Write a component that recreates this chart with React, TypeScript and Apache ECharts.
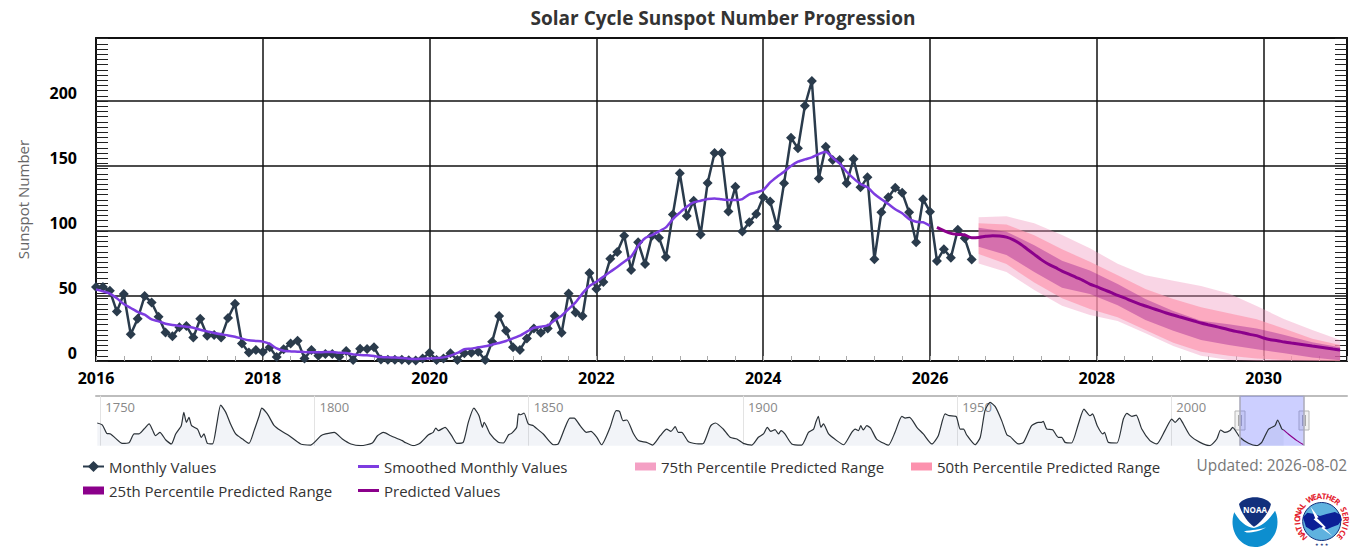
import { useEffect, useRef } from 'react';
import * as echarts from 'echarts';

const START_YEAR = 2016;

// monthly sunspot number, one value per month from 2016-01
const monthlyValues = [
  57, 57, 54, 38, 51.5, 20.5, 32.5, 50, 45, 34, 22, 19,
  26, 27, 18, 32.5, 19.5, 20, 18, 33, 44, 13.5, 6.5, 8.5,
  7, 10.5, 3, 9, 13.5, 15.6, 2, 8.5, 4, 5.4, 5.4, 3.3,
  7.7, 0.8, 9.5, 9.2, 10.5, 1.2, 1, 1, 1, 0.5, 0.4, 2,
  6.4, 0.8, 2, 5.9, 0.8, 6, 6.4, 7.2, 0.8, 14.9, 34.6, 23.3,
  10.5, 8.5, 17.4, 25, 21.8, 25, 34.6, 21.8, 52, 37.4, 34.6, 67.7,
  55.4, 60.8, 78.7, 83.8, 96.4, 70, 91.3, 74.6, 96.4, 94.9, 80, 112.8,
  144.4, 111.5, 123.3, 97.4, 137, 160, 160, 115, 134, 99.7, 106.7, 113,
  126, 122.8, 103.3, 136.7, 171.8, 163.6, 196.4, 215.4, 140.5, 164.9, 154.6, 154.6,
  136.7, 155.4, 133.6, 141.3, 78.2, 114.4, 125.9, 133.3, 129.5, 114.4, 91.3, 124.4,
  114.9, 77, 86, 79.5, 101, 94.4, 78,
];

const smoothedValues = [
  55.1, 53.6, 51.8, 48.2, 43.8, 40.8, 37.7, 35.6, 32, 30.5, 28.7, 27.7,
  27, 26.4, 25.6, 24.1, 22.8, 21.5, 20.5, 19.7, 18.7, 17.2, 15.9, 15.4,
  14.9, 13.1, 9.7, 7.9, 7.4, 7.2, 6.9, 6.7, 6.7, 6.9, 6.9, 6.4,
  6.2, 5.1, 4.6, 4.4, 3.8, 3.1, 2.8, 2.6, 2.3, 1.8, 1.5, 1.8,
  2, 2.3, 2.8, 4.1, 6.2, 9, 9.5, 10.5, 11.3, 12.6, 13.8, 15.4,
  17.4, 19.5, 22.6, 25.6, 26.4, 27.4, 31.3, 34.9, 40, 45.1, 52, 57.7,
  61, 64.9, 68.7, 72.3, 76.4, 80.3, 88.5, 94.4, 96.9, 99.7, 102.8, 109.2,
  114.1, 118.7, 122, 123.3, 124.6, 125.1, 124.4, 123.8, 123.8, 124.6, 128.2, 129.7,
  131.5, 137.4, 141.8, 145.6, 150, 153.3, 155.1, 156.7, 159.2, 161, 156.4, 152,
  145.6, 140.5, 136.2, 133.6, 128.5, 124.4, 120.8, 116.7, 113.6, 109.2, 107.2, 106.7,
  104,
];

// predicted line starts 2026-02
const PREDICTED_START = 121;
const predictedValues = [
  102.8, 100.3, 98.2, 97.4, 96.9, 94.9, 95.1, 95.9, 96.4, 96.2, 95.3, 93.2,
  90, 86, 82, 78, 74.6, 72, 69.2, 66.9, 64.4, 62, 59.2, 57.2,
  54.9, 52.8, 50.5, 48.5, 46.2, 44.1, 42.3, 40.5, 38.7, 36.9, 35.4, 33.8,
  32.3, 30.8, 29.2, 27.9, 26.7, 25.4, 24.1, 22.8, 21.8, 20.5, 19.5, 17.7,
  16.4, 15.6, 14.6, 13.8, 13.1, 12.3, 11.5, 10.8, 10, 9.2, 8.5,
];

// percentile ranges, read every four months
const bandYears = [
  2026.583, 2026.917, 2027.25, 2027.583, 2027.917, 2028.25, 2028.583,
  2028.917, 2029.25, 2029.583, 2029.917, 2030.25, 2030.583, 2030.917,
];
const p75Upper = [110.5, 111.3, 105.9, 96.9, 86.7, 74.9, 65.9, 61.8, 57.7, 52, 42.3, 32.1, 23.8, 16.2];
const p50Upper = [105.9, 105.1, 96.7, 85.9, 76.4, 65.9, 55.4, 47.7, 41.3, 36.7, 32.1, 24.9, 17.2, 12.3];
const p25Upper = [102.6, 99.5, 89, 77.2, 69.7, 59.2, 47.7, 38.5, 31, 28.2, 25.1, 20, 14.4, 10.5];
const p25Lower = [87.9, 81.5, 68.5, 56.4, 51.5, 42.8, 31.5, 23.3, 16.2, 12.3, 9, 5.9, 2.6, 0.5];
const p50Lower = [82.3, 74.6, 60.3, 48.2, 40, 33.6, 23.8, 14.1, 7.2, 4.1, 2, 0.8, 0.3, 0];
const p75Lower = [75.1, 68.5, 54.6, 42.6, 35.4, 30.8, 21.3, 11.5, 4.1, 0.8, 0, 0, 0, 0];

// navigator history: [year, smoothed value]
const navigatorHistory: number[][] = [
  [1749.3, 143], [1750.5, 130], [1751.5, 78], [1752.4, 74], [1753.6, 46], [1755.1, 15], [1756.7, 19], [1757.9, 74],
  [1759, 74], [1760.2, 105], [1761.4, 137], [1762.2, 99], [1762.9, 63], [1763.9, 84], [1765.3, 36], [1766.6, 11],
  [1767.6, 74], [1768.9, 126], [1769.5, 210], [1770.1, 147], [1770.7, 179], [1771.3, 126], [1772.7, 105], [1773.6, 53],
  [1774.2, 74], [1775, 15], [1776.2, 11], [1777.2, 137], [1778.1, 256], [1779.3, 210], [1780.4, 137], [1781.6, 74],
  [1783.2, 42], [1784.7, 15], [1785.9, 95], [1787.1, 189], [1787.7, 237], [1789, 200], [1790.6, 126], [1792.1, 95],
  [1794.1, 63], [1796.8, 11], [1799.1, 4], [1801.5, 63], [1802.6, 74], [1804.6, 84], [1806.5, 42], [1808.5, 11],
  [1810.8, 0], [1813.5, 17], [1814.7, 63], [1816.1, 84], [1817.8, 63], [1820.5, 32], [1821.1, 21], [1823.1, 0],
  [1824.6, 15], [1826.6, 69], [1827.7, 84], [1828.3, 111], [1828.9, 95], [1830.5, 116], [1832, 63], [1833.2, 15],
  [1834.7, 21], [1835.9, 147], [1837.2, 237], [1838.4, 189], [1839.2, 116], [1839.6, 147], [1841, 74], [1842.9, 21],
  [1844.1, 17], [1845.3, 69], [1846, 78], [1847.2, 116], [1847.6, 200], [1848.1, 195], [1848.9, 206], [1849.9, 137],
  [1851.1, 126], [1851.5, 116], [1853.4, 74], [1855.8, 6], [1856.9, 11], [1858.5, 116], [1859.6, 174], [1860.6, 174],
  [1862, 126], [1863.5, 84], [1864.5, 90], [1865.9, 53], [1867, 6], [1869, 116], [1870.4, 221], [1871.2, 216],
  [1872, 158], [1872.9, 162], [1874.4, 78], [1875.6, 32], [1877.5, 21], [1878.9, 4], [1880.7, 63], [1882.2, 105],
  [1883.2, 90], [1884.2, 120], [1884.9, 84], [1885.7, 84], [1887.3, 25], [1889.6, 11], [1890.8, 15], [1892.3, 116],
  [1892.7, 132], [1893.6, 143], [1895.4, 105], [1897, 53], [1898.6, 42], [1900.1, 15], [1902.1, 4], [1903.6, 53],
  [1904.8, 74], [1905.7, 116], [1906.5, 90], [1907.5, 101], [1908.3, 74], [1908.9, 95], [1909.8, 74], [1911.4, 11],
  [1913.7, 4], [1915.3, 84], [1916.5, 105], [1917, 147], [1917.6, 185], [1918.2, 116], [1918.8, 137], [1920, 74],
  [1921.9, 32], [1923.5, 6], [1925.4, 84], [1926.2, 105], [1927, 95], [1927.5, 126], [1928.1, 99], [1928.9, 126],
  [1929.8, 111], [1931.2, 42], [1933.2, 11], [1934, 4], [1935.5, 84], [1937.1, 185], [1937.9, 174], [1938.9, 179],
  [1940.6, 116], [1942.1, 74], [1944.1, 11], [1945.6, 63], [1947.2, 200], [1948.2, 189], [1949.8, 183], [1950.7, 105],
  [1951.5, 105], [1952.2, 69], [1954.2, 6], [1955.4, 53], [1956.5, 221], [1957.7, 273], [1958.9, 246], [1960.4, 158],
  [1961.6, 69], [1962.4, 57], [1964.3, 11], [1965.5, 21], [1967.4, 126], [1969, 147], [1969.7, 147], [1970.1, 153],
  [1970.9, 105], [1972.3, 101], [1973.6, 53], [1974.4, 53], [1975.2, 21], [1976.7, 17], [1978.3, 137], [1979.6, 231],
  [1981, 189], [1981.6, 200], [1982.7, 126], [1984, 74], [1984.4, 84], [1985.3, 21], [1987.3, 17], [1988.8, 168],
  [1989.6, 204], [1990.8, 185], [1991.8, 193], [1993.1, 105], [1995, 32], [1996.6, 11], [1998.5, 95], [2000.1, 168],
  [2000.9, 147], [2001.9, 174], [2002.8, 137], [2004.4, 63], [2006.7, 21], [2009, 0], [2010.6, 42], [2011.5, 99],
  [2012.5, 84], [2013.7, 95], [2014.3, 116], [2016, 53], [2018, 15], [2019.9, 0], [2021.1, 21], [2022.7, 105],
  [2024.2, 126], [2024.8, 162], [2025.8, 105], [2026.2, 100],
];
const navigatorForecast: number[][] = [
  [2026.2, 100], [2027.3, 74], [2029.3, 32], [2030.9, 6],
];
const navigatorLabels = [1750, 1800, 1850, 1900, 1950, 2000];

const FONT = '"Open Sans", "Noto Sans", sans-serif';
const NWS_LETTERS = 'NATIONAL WEATHER SERVICE';

const P75 = '75th Percentile Predicted Range';
const P50 = '50th Percentile Predicted Range';
const P25 = '25th Percentile Predicted Range';

const bandSeries = (name: string, upper: number[], lower: number[], color: string, swatch: string) => ({
  type: 'custom',
  name,
  xAxisIndex: 0,
  yAxisIndex: 0,
  z: 3,
  silent: true,
  itemStyle: { color: swatch },
  data: bandYears.map((y, i) => [y, lower[i], upper[i]]),
  encode: { x: 0, y: [1, 2] },
  renderItem: (params: any, api: any) => {
    if (params.dataIndex !== 0) return null;
    const top = bandYears.map((y, i) => api.coord([y, upper[i]]));
    const bottom = bandYears.map((y, i) => api.coord([y, lower[i]])).reverse();
    return { type: 'polygon', shape: { points: [...top, ...bottom] }, style: { fill: color } };
  },
});

const legendBase = {
  orient: 'vertical',
  selectedMode: false,
  padding: 0,
  itemGap: 9,
  textStyle: { fontFamily: FONT, fontSize: 15, color: '#333' },
};

const logoGraphics = () => {
  const cx = 1321.7;
  const cy = 520.5;
  const letters = NWS_LETTERS.split('').map((ch, i) => {
    const a = ((-132 + (i * 264) / (NWS_LETTERS.length - 1)) * Math.PI) / 180;
    return {
      type: 'text',
      x: cx + Math.sin(a) * 25,
      y: cy - Math.cos(a) * 25,
      rotation: -a,
      style: {
        text: ch,
        fontFamily: FONT,
        fontSize: 8,
        fontWeight: 'bold',
        fill: '#e3202c',
        align: 'center',
        verticalAlign: 'middle',
      },
    };
  });
  return [
    // NOAA
    { type: 'ellipse', shape: { cx: 1255, cy: 522, rx: 22.5, ry: 25 }, style: { fill: '#0d8ecf' } },
    { type: 'noaaGull', x: 1220, y: 490, scaleX: 1 / 3, scaleY: 1 / 3, style: { fill: '#ffffff' } },
    { type: 'noaaDome', x: 1220, y: 490, scaleX: 1 / 3, scaleY: 1 / 3, style: { fill: '#12307c' } },
    {
      type: 'text',
      x: 1255,
      y: 509,
      style: { text: 'NOAA', fontFamily: FONT, fontSize: 8, fontWeight: 'bold', fill: '#fff', align: 'center', verticalAlign: 'middle' },
    },
    // NWS
    { type: 'circle', shape: { cx, cy: cy + 1, r: 19 }, style: { fill: '#5fb2df', stroke: '#12307c', lineWidth: 1 } },
    { type: 'nwsLand', x: 1220, y: 490, scaleX: 1 / 3, scaleY: 1 / 3, style: { fill: '#0b1f96' } },
    { type: 'nwsBolt', x: 1220, y: 490, scaleX: 1 / 3, scaleY: 1 / 3, style: { fill: '#ffffff' } },
    ...letters,
    {
      type: 'text',
      x: cx,
      y: cy + 23.5,
      style: { text: '★ ★ ★', fontFamily: 'DejaVu Sans', fontSize: 4, fill: '#12307c', align: 'center', verticalAlign: 'middle' },
    },
  ];
};

const handle = (x: number) => ({
  type: 'group',
  children: [
    { type: 'rect', shape: { x: x - 5, y: 411, width: 10, height: 19 }, style: { fill: '#f2f2f2', stroke: '#b5b5b5', lineWidth: 1 } },
    { type: 'line', shape: { x1: x - 1.5, y1: 415, x2: x - 1.5, y2: 426 }, style: { stroke: '#a8a8a8', lineWidth: 1 } },
    { type: 'line', shape: { x1: x + 1.5, y1: 415, x2: x + 1.5, y2: 426 }, style: { stroke: '#a8a8a8', lineWidth: 1 } },
  ],
});

const App = () => {
  const chartRef = useRef<HTMLDivElement>(null);

  useEffect(() => {
    if (!chartRef.current) return;

    echarts.graphic.registerShape(
      'noaaDome',
      echarts.graphic.extendPath('M57,42 C75,15 135,15 153,42 C150,62 125,98 102,110 C82,98 62,65 57,42 Z', {})
    );
    echarts.graphic.registerShape(
      'noaaGull',
      echarts.graphic.extendPath('M37,55 C55,95 80,112 102,114 C130,108 152,85 172,52 L172,40 L140,20 L70,20 L37,42 Z M72,124 C95,120 120,120 138,112 C125,122 100,128 80,128 Z', {})
    );
    echarts.graphic.registerShape(
      'nwsLand',
      echarts.graphic.extendPath('M249,82 L262,68 L285,72 L300,78 L320,72 L345,66 L362,74 L366,90 L355,104 L335,112 L322,118 L300,112 L278,122 L258,110 Z', {})
    );
    echarts.graphic.registerShape(
      'nwsBolt',
      echarts.graphic.extendPath('M272,50 L296,82 L291,84 L318,112 L313,114 L338,138 L304,114 L309,110 L281,88 L286,85 Z', {})
    );

    const chart = echarts.init(chartRef.current, null, { renderer: 'svg' });

    const option = {
      animation: false,
      backgroundColor: '#fff',
      title: {
        text: 'Solar Cycle Sunspot Number Progression',
        left: 718,
        top: 3,
        textAlign: 'center',
        textStyle: { fontFamily: FONT, fontSize: 19, fontWeight: 'bold', color: '#333' },
      },
      grid: [
        { left: 96, top: 38, width: 1251, height: 323 },
        { left: 96, top: 395.7, width: 1251, height: 50 },
      ],
      xAxis: [
        {
          type: 'value',
          gridIndex: 0,
          min: 2016,
          max: 2031,
          interval: 2,
          axisLine: { onZero: false, lineStyle: { color: '#111', width: 2 } },
          axisTick: { show: false },
          splitLine: { lineStyle: { color: '#111', width: 1.5 } },
          axisLabel: {
            showMaxLabel: false,
            margin: 9,
            formatter: (v: number) => String(v),
            fontFamily: FONT,
            fontSize: 16,
            fontWeight: 'bold',
            color: '#000',
          },
        },
        {
          type: 'value',
          gridIndex: 0,
          position: 'top',
          min: 2016,
          max: 2031,
          axisLine: { onZero: false, lineStyle: { color: '#111', width: 2 } },
          axisTick: { show: false },
          axisLabel: { show: false },
          splitLine: { show: false },
        },
        {
          // four-month ticks along the bottom
          type: 'value',
          gridIndex: 0,
          position: 'bottom',
          min: 2016,
          max: 2031,
          interval: 1 / 3,
          axisLine: { show: false, onZero: false },
          axisTick: { inside: true, length: 5, lineStyle: { color: '#aaa', width: 1 } },
          axisLabel: { show: false },
          splitLine: { show: false },
        },
        {
          type: 'value',
          gridIndex: 1,
          position: 'top',
          min: 1749,
          max: 2041,
          axisLine: { onZero: false, lineStyle: { color: '#bdbdbd', width: 2 } },
          axisTick: { customValues: navigatorLabels, inside: true, length: 50, lineStyle: { color: '#e3e3e3', width: 1 } },
          axisLabel: {
            customValues: navigatorLabels,
            inside: true,
            margin: 5,
            align: 'left',
            padding: [0, 0, 0, 5],
            formatter: (v: number) => String(v),
            fontFamily: FONT,
            fontSize: 13,
            color: '#888',
          },
          splitLine: { show: false },
        },
      ],
      yAxis: [
        {
          type: 'value',
          gridIndex: 0,
          min: 0,
          max: 248.5,
          interval: 50,
          name: 'Sunspot Number',
          nameLocation: 'middle',
          nameGap: 66,
          nameTextStyle: { fontFamily: FONT, fontSize: 15, color: '#666' },
          axisLine: { show: true, onZero: false, lineStyle: { color: '#111', width: 2 } },
          axisTick: { show: false },
          splitLine: { lineStyle: { color: '#111', width: 1.5 } },
          axisLabel: {
            showMaxLabel: false,
            margin: 19,
            verticalAlign: 'bottom',
            lineHeight: 16,
            fontFamily: FONT,
            fontSize: 16,
            fontWeight: 'bold',
            color: '#000',
          },
        },
        {
          type: 'value',
          gridIndex: 0,
          position: 'left',
          min: 0,
          max: 248.5,
          interval: 4,
          axisLine: { show: false, onZero: false },
          axisTick: { inside: true, length: 12, lineStyle: { color: '#222', width: 1 } },
          axisLabel: { show: false },
          splitLine: { show: false },
        },
        {
          type: 'value',
          gridIndex: 0,
          position: 'right',
          min: 0,
          max: 248.5,
          interval: 4,
          axisLine: { show: true, onZero: false, lineStyle: { color: '#111', width: 2 } },
          axisTick: { inside: true, length: 12, lineStyle: { color: '#222', width: 1 } },
          axisLabel: { show: false },
          splitLine: { show: false },
        },
        {
          type: 'value',
          gridIndex: 1,
          min: 0,
          max: 315,
          show: false,
        },
      ],
      legend: [
        { ...legendBase, left: 82, top: 459, itemWidth: 21, itemHeight: 14, data: ['Monthly Values'] },
        {
          ...legendBase,
          left: 83,
          top: 483,
          itemWidth: 21,
          itemHeight: 8,
          data: [{ name: P25, icon: 'rect', itemStyle: { color: '#8b008b' } }],
        },
        {
          ...legendBase,
          left: 358,
          top: 459,
          itemWidth: 21,
          itemHeight: 3,
          data: [
            { name: 'Smoothed Monthly Values', icon: 'rect', itemStyle: { color: '#7d3ce0' } },
            { name: 'Predicted Values', icon: 'rect', itemStyle: { color: '#8b008b' } },
          ],
        },
        {
          ...legendBase,
          left: 635,
          top: 459,
          itemWidth: 21,
          itemHeight: 8,
          data: [{ name: P75, icon: 'rect', itemStyle: { color: '#f4a0c4' } }],
        },
        {
          ...legendBase,
          left: 911,
          top: 459,
          itemWidth: 21,
          itemHeight: 8,
          data: [{ name: P50, icon: 'rect', itemStyle: { color: '#fc92ae' } }],
        },
      ],
      graphic: [
        {
          type: 'text',
          right: 14,
          top: 458,
          style: { text: 'Updated: 2026-08-02', fontFamily: FONT, fontSize: 15.4, fill: '#777' },
        },
        handle(1240),
        handle(1304),
        ...logoGraphics(),
      ],
      series: [
        bandSeries(P75, p75Upper, p75Lower, 'rgba(240,150,190,0.4)', '#f4a0c4'),
        bandSeries(P50, p50Upper, p50Lower, 'rgba(253,145,170,0.64)', '#fc92ae'),
        bandSeries(P25, p25Upper, p25Lower, 'rgba(139,0,139,0.34)', '#8b008b'),
        {
          type: 'line',
          name: 'Monthly Values',
          xAxisIndex: 0,
          yAxisIndex: 0,
          z: 4,
          clip: false,
          symbol: 'diamond',
          symbolSize: 10,
          itemStyle: { color: '#2a3b4c' },
          lineStyle: { color: '#2a3b4c', width: 2.5 },
          data: monthlyValues.map((v, i) => [START_YEAR + i / 12, v]),
        },
        {
          type: 'line',
          name: 'Smoothed Monthly Values',
          xAxisIndex: 0,
          yAxisIndex: 0,
          z: 5,
          symbol: 'none',
          smooth: 0.2,
          itemStyle: { color: '#7d3ce0' },
          lineStyle: { color: '#7d3ce0', width: 2.5 },
          data: smoothedValues.map((v, i) => [START_YEAR + i / 12, v]),
        },
        {
          type: 'line',
          name: 'Predicted Values',
          xAxisIndex: 0,
          yAxisIndex: 0,
          z: 5,
          symbol: 'none',
          smooth: 0.3,
          itemStyle: { color: '#8b008b' },
          lineStyle: { color: '#8b008b', width: 3 },
          data: predictedValues.map((v, i) => [START_YEAR + (PREDICTED_START + i) / 12, v]),
        },
        {
          type: 'line',
          name: 'Navigator',
          xAxisIndex: 3,
          yAxisIndex: 3,
          symbol: 'none',
          silent: true,
          smooth: 0.2,
          lineStyle: { color: '#2b3238', width: 1.2 },
          areaStyle: { color: 'rgba(108,133,172,0.09)', opacity: 1 },
          data: navigatorHistory,
          markArea: {
            silent: true,
            itemStyle: { color: 'rgba(100,110,255,0.33)' },
            data: [[{ xAxis: 2016 }, { xAxis: 2030.92 }]],
          },
          markLine: {
            silent: true,
            symbol: 'none',
            label: { show: false },
            lineStyle: { color: '#a8a8b8', width: 1.5, type: 'solid' },
            data: [{ xAxis: 2016 }, { xAxis: 2030.92 }],
          },
          z: 2,
        },
        {
          type: 'line',
          name: 'Navigator Forecast',
          xAxisIndex: 3,
          yAxisIndex: 3,
          symbol: 'none',
          silent: true,
          smooth: 0.2,
          lineStyle: { color: '#8b008b', width: 1.2 },
          data: navigatorForecast,
          z: 3,
        },
      ],
    };

    chart.setOption(option as any);

    return () => {
      chart.dispose();
    };
  }, []);

  return <div ref={chartRef} style={{ position: 'absolute', left: 0, top: 0, width: 1361, height: 556 }} />;
};

export default App;
